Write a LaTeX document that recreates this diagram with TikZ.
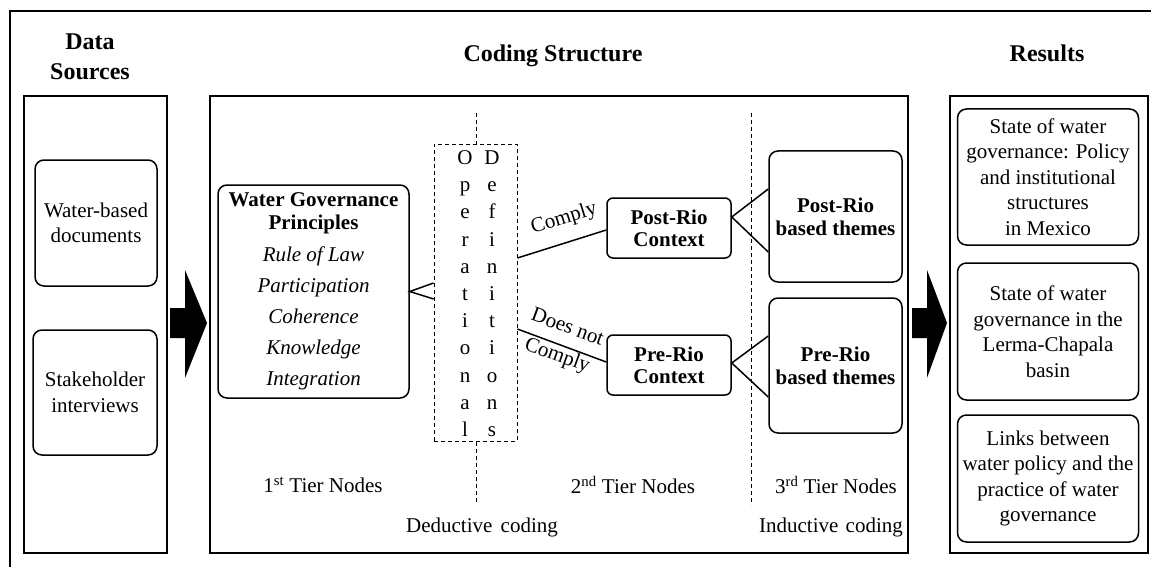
\documentclass[tikz,border=0pt]{standalone}
\usepackage{fontspec}
\setmainfont{Liberation Serif}
\begin{document}
\begin{tikzpicture}[x=1pt,y=-1pt,
  txt/.style={font=\fontsize{21}{25.5}\selectfont, inner sep=0pt, align=center},
  panel/.style={draw, line width=1.8pt, inner sep=0pt},
  rbox/.style={draw, line width=1.5pt, rounded corners=9pt, inner sep=0pt, align=center, font=\fontsize{21}{25.5}\selectfont},
  cbox/.style={rbox, rounded corners=6pt, font=\bfseries\fontsize{21}{22}\selectfont},
  titletxt/.style={font=\bfseries\fontsize{24}{30}\selectfont, align=center, inner sep=0pt},
  conn/.style={line width=1.5pt},
  dline/.style={line width=0.8pt, dash pattern=on 4pt off 3pt},
  bigarrow/.style={fill=black, draw=none},
  letter/.style={font=\fontsize{21}{25.5}\selectfont, inner sep=0pt, text height=14pt, text depth=5pt}
]
\useasboundingbox (0,0) rectangle (1151,567);
% outer frame (cut by the picture edges)
\draw[line width=2pt] (10,567) -- (10,11) -- (1151,11);

% titles
\node[titletxt] (tds) at (90,57) {Data\\Sources};
\node[titletxt, anchor=base] (tcs) at (553,62) {Coding Structure};
\node[titletxt, anchor=base] (tres) at (1047,62) {Results};

% panels
\node[panel, minimum width=143pt, minimum height=457pt] (dspanel) at (95.5,324.5) {};
\node[panel, minimum width=698pt, minimum height=457pt] (cspanel) at (559,324.5) {};
\node[panel, minimum width=198pt, minimum height=457pt] (respanel) at (1049,324.5) {};

% data sources
\node[rbox, minimum width=122pt, minimum height=126pt] (ds1) at (96,223) {Water-based\\documents};
\node[rbox, minimum width=124pt, minimum height=125pt] (ds2) at (95,392.5) {Stakeholder\\interviews};

% big arrows
\path[bigarrow] (170,308) -- (185,308) -- (185,270) -- (207,323) -- (185,378) -- (185,338) -- (170,338) -- cycle;
\path[bigarrow] (912,308) -- (927,308) -- (927,270) -- (947,323) -- (927,378) -- (927,338) -- (912,338) -- cycle;

% dashed dividers
\coordinate (d1top) at (476,113);
\coordinate (d1bot) at (476,502);
\coordinate (d2top) at (751,113);
\coordinate (d2bot) at (751,505);
\draw[dline] (d1top) -- (d1bot);
\draw[dline] (d2top) -- (d2bot);

% water governance principles
\node[rbox, minimum width=191pt, minimum height=213pt, font=\fontsize{21}{23}\selectfont] (wgp) at (313.5,291.5)
 {\textbf{Water Governance}\\\textbf{Principles}\\[9pt]\textit{Rule of Law}\\[8pt]\textit{Participation}\\[8pt]\textit{Coherence}\\[8pt]\textit{Knowledge}\\[8pt]\textit{Integration}};

% operational definitions
\node[draw, dline, fill=white, minimum width=83pt, minimum height=297pt, inner sep=0pt] (opdef) at (475.5,292.5) {};
\foreach \a/\b [count=\i] in {O/D, p/e, e/f, r/i, a/n, t/i, i/t, o/i, n/o, a/n, l/s} {
  \node[letter] (opl\i) at (465,{160+27.2*(\i-1)}) {\a};
  \node[letter] (dfl\i) at (492,{160+27.2*(\i-1)}) {\b};
}

% context boxes
\node[cbox, minimum width=124pt, minimum height=60pt] (postctx) at (669,228) {Post-Rio\\Context};
\node[cbox, minimum width=124pt, minimum height=60pt] (prectx) at (669,365) {Pre-Rio\\Context};

% theme boxes
\node[rbox, font=\bfseries\fontsize{21}{23}\selectfont, minimum width=133pt, minimum height=131pt] (postth) at (835.5,216.5) {Post-Rio\\based themes};
\node[rbox, font=\bfseries\fontsize{21}{23}\selectfont, minimum width=133pt, minimum height=135pt] (preth) at (835.5,365.5) {Pre-Rio\\based themes};

% result boxes
\node[rbox, minimum width=181pt, minimum height=136pt] (res1) at (1048,177) {State of water\\governance: Policy\\and institutional\\structures\\in Mexico};
\node[rbox, minimum width=181pt, minimum height=137pt] (res2) at (1048,331.5) {State of water\\governance in the\\Lerma-Chapala\\basin};
\node[rbox, minimum width=181pt, minimum height=127pt] (res3) at (1048,478.5) {Links between\\water policy and the\\practice of water\\governance};

% connectors
\draw[conn] ([yshift=9.5pt]opdef.west) -- (wgp.east) -- ([yshift=-6.5pt]opdef.west);
\draw[conn] ([yshift=34.5pt]opdef.east) -- ([yshift=-2pt]postctx.west);
\draw[conn] ([yshift=-36.5pt]opdef.east) -- ([yshift=3pt]prectx.west);
\draw[conn] ([yshift=27.5pt]postth.west) -- ([yshift=11pt]postctx.east) -- ([yshift=-35.5pt]postth.west);
\draw[conn] ([yshift=29.5pt]preth.west) -- ([yshift=2pt]prectx.east) -- ([yshift=-31.5pt]preth.west);

% connector labels
\node[txt, rotate=17] (lcomply) at (564,219) {Comply};
\node[txt, rotate=-20, font=\fontsize{21}{30}\selectfont] (ldoes) at (562,342.5) {Does not\\Comply};

% bottom labels
\node[txt] (tier1) at (323,485) {1\textsuperscript{st} Tier Nodes};
\node[txt] (tier2) at (633,485) {2\textsuperscript{nd} Tier Nodes};
\node[txt] (tier3) at (836,485) {3\textsuperscript{rd} Tier Nodes};
\node[txt] (deduct) at (482,527) {Deductive\hspace{3pt} coding};
\node[txt] (induct) at (831,527) {Inductive\hspace{2pt} coding};
\end{tikzpicture}
\end{document}
